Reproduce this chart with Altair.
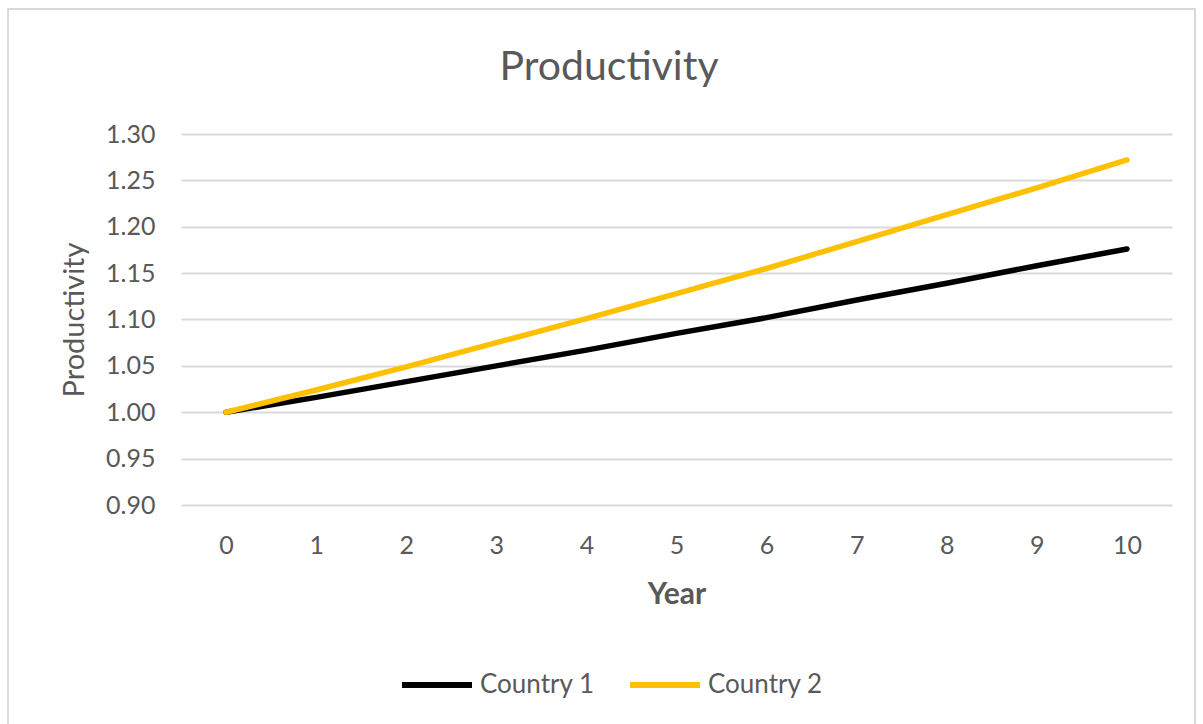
import altair as alt
import pandas as pd

years = [0, 1, 2, 3, 4, 5, 6, 7, 8, 9, 10]
country1 = [1.000, 1.016, 1.033, 1.050, 1.067, 1.085, 1.102, 1.121, 1.139, 1.158, 1.176]
country2 = [1.000, 1.024, 1.049, 1.075, 1.101, 1.128, 1.155, 1.184, 1.213, 1.242, 1.272]
series_names = ["Country 1", "Country 2"]
series_colors = ["#000000", "#FFC000"]
chart_title = "Productivity"

rows = []
for y, v in zip(years, country1):
    rows.append({"Year": y, "Productivity": v, "Series": series_names[0]})
for y, v in zip(years, country2):
    rows.append({"Year": y, "Productivity": v, "Series": series_names[1]})
df = pd.DataFrame(rows)

FONT = "Lato"
GREY = "#595959"

frame = alt.Chart(pd.DataFrame({"a": [0]})).mark_rect(
    fillOpacity=0, stroke="#d9d9d9", strokeWidth=2, clip=False
).encode(
    x=alt.value(-173), x2=alt.value(1014), y=alt.value(-125), y2=alt.value(600)
)

title = alt.Chart(pd.DataFrame({"t": [chart_title]})).mark_text(
    font=FONT, fontSize=41, color=GREY, align="center", baseline="alphabetic"
).encode(
    text="t:N", x=alt.value(428), y=alt.value(-54)
)

lines = alt.Chart(df).mark_line(strokeWidth=5.5, strokeCap="round").encode(
    x=alt.X("Year:O", sort=years,
            scale=alt.Scale(type="point", padding=0.5),
            axis=alt.Axis(title="Year", labelAngle=0, grid=False, ticks=False,
                          domain=False, labelPadding=28, titlePadding=21,
                          labelFontSize=25, titleFontSize=30, titleFontWeight="bold",
                          labelColor=GREY, titleColor=GREY, labelFont=FONT, titleFont=FONT)),
    y=alt.Y("Productivity:Q",
            scale=alt.Scale(domain=[0.90, 1.30], zero=False, nice=False),
            axis=alt.Axis(title="Productivity", format=".2f",
                          values=[0.90, 0.95, 1.00, 1.05, 1.10, 1.15, 1.20, 1.25, 1.30],
                          grid=True, gridColor="#d9d9d9", gridWidth=2,
                          ticks=False, domain=False, labelPadding=26, titlePadding=16,
                          labelFontSize=25, titleFontSize=29, titleFontWeight="normal",
                          labelColor=GREY, titleColor=GREY, labelFont=FONT, titleFont=FONT)),
    color=alt.Color("Series:N",
                    scale=alt.Scale(domain=series_names, range=series_colors),
                    legend=alt.Legend(title=None, orient="none", direction="horizontal",
                                      legendX=218, legendY=513,
                                      symbolType="stroke", symbolStrokeWidth=6,
                                      symbolSize=4900, labelFontSize=26, labelFont=FONT,
                                      labelColor=GREY, columnPadding=23, labelOffset=5,
                                      symbolOffset=0)),
)

chart = alt.layer(frame, lines, title).properties(
    width=991, height=371,
    background="white",
    padding={"left": 181, "top": 134, "right": 31, "bottom": 219},
    autosize=alt.AutoSizeParams(type="none"),
).configure_view(strokeWidth=0, stroke="transparent")

chart.save("out.html", embed_options={"renderer": "svg", "actions": False})
